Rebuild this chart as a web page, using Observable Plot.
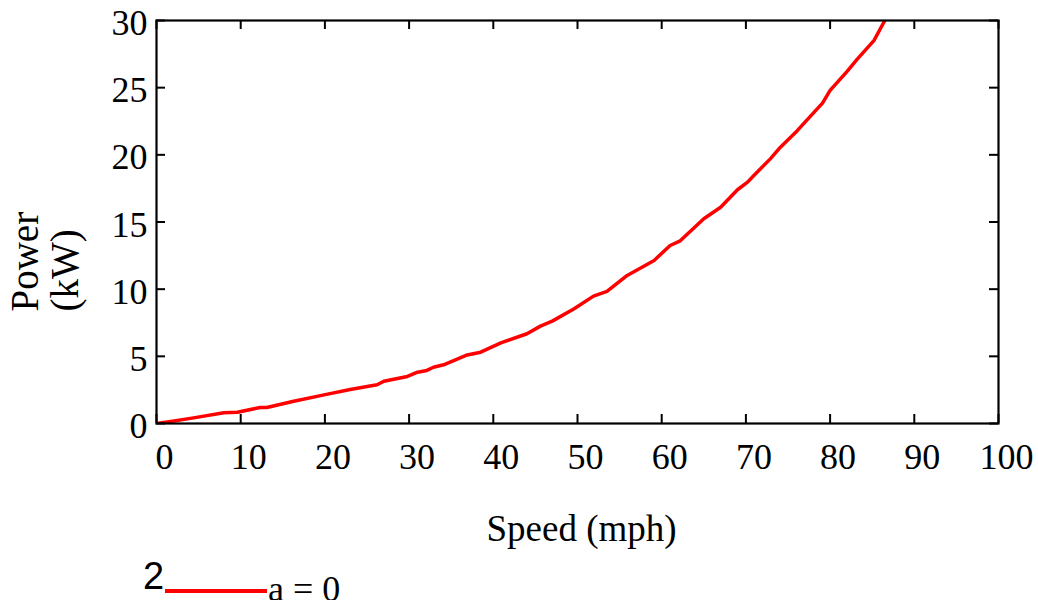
<!DOCTYPE html>
<html>
<head>
<meta charset="utf-8">
<script src="https://cdn.jsdelivr.net/npm/d3@7"></script>
<script src="https://cdn.jsdelivr.net/npm/@observablehq/plot@0.6"></script>
<style>
  html, body { margin: 0; padding: 0; background: #fff; overflow: hidden; }
  #chart svg { display: block; }
  #legend { position: relative; width: 1038px; height: 45px; }
  #legend .num { position: absolute; left: 143px; top: 2px; font-family: "Liberation Sans", Arial, sans-serif; font-size: 38px; line-height: 1; }
  #legend .swatch { position: absolute; left: 165px; top: 34px; width: 102px; height: 4px; background: #ff0000; }
  #legend .lab { position: absolute; left: 268px; top: 16px; font-family: "Liberation Serif", "Times New Roman", serif; font-size: 36px; line-height: 1; }
</style>
</head>
<body>
<div id="chart"></div>
<div id="legend"><span class="num">2</span><span class="swatch"></span><span class="lab">a = 0</span></div>
<script>
const speed = [0, 1.9, 4.4, 8.0, 9.6, 12.3, 13.1, 16.3, 19.9, 23.0, 26.2, 27.0, 29.8, 31.0, 32.1, 32.9, 34.1, 36.9, 38.5, 40.9, 44.0, 45.6, 47.0, 49.6, 51.9, 53.5, 55.9, 59.1, 61.0, 62.2, 65.0, 67.0, 69.0, 70.2, 71.0, 72.9, 74.1, 76.1, 77.7, 79.1, 80.0, 82.0, 83.2, 85.2, 86.5];
const power = [0, 0.17, 0.42, 0.8, 0.84, 1.19, 1.19, 1.66, 2.13, 2.53, 2.88, 3.15, 3.5, 3.82, 3.95, 4.19, 4.37, 5.1, 5.31, 6.0, 6.68, 7.25, 7.62, 8.54, 9.48, 9.83, 11.02, 12.14, 13.25, 13.6, 15.24, 16.1, 17.4, 17.97, 18.5, 19.7, 20.57, 21.8, 22.9, 23.85, 24.8, 26.2, 27.1, 28.5, 30.0];
const xTicks = [0, 10, 20, 30, 40, 50, 60, 70, 80, 90, 100];
const yTicks = [0, 5, 10, 15, 20, 25, 30];
const xLabel = "Speed (mph)";
const yLabel = "Power\n(kW)";

const data = speed.map((s, i) => ({speed: s, power: power[i]}));

const W = 1038, H = 555, mL = 156, mR = 40, mT = 20, mB = 132;
const fw = W - mL - mR, fh = H - mT - mB, tl = 9;
const FS = 36, XFS = 37, YFS = 39;

const chart = Plot.plot({
  width: W,
  height: H,
  marginLeft: mL,
  marginRight: mR,
  marginTop: mT,
  marginBottom: mB,
  style: {fontFamily: "'Liberation Serif', 'Times New Roman', serif", fontSize: FS + "px", background: "#fff", color: "#000"},
  x: {domain: [0, 100]},
  y: {domain: [0, 30]},
  marks: [
    Plot.line(data, {x: "speed", y: "power", stroke: "#ff0000", strokeWidth: 3.5, clip: true}),
    Plot.tickX(xTicks, {x: d => d, insetTop: fh - tl, stroke: "#000", strokeWidth: 2}),
    Plot.tickX(xTicks, {x: d => d, insetBottom: fh - tl, stroke: "#000", strokeWidth: 2}),
    Plot.tickY(yTicks, {y: d => d, insetRight: fw - tl, stroke: "#000", strokeWidth: 2}),
    Plot.tickY(yTicks, {y: d => d, insetLeft: fw - tl, stroke: "#000", strokeWidth: 2}),
    Plot.frame({stroke: "#000", strokeWidth: 2.2}),
    Plot.axisX(xTicks, {tickSize: 0, tickPadding: 19.5, dx: 8, fontSize: FS, label: null, tickFormat: d => String(d)}),
    Plot.axisY(yTicks, {tickSize: 0, tickPadding: 9, dy: 3, fontSize: FS, label: null, tickFormat: d => String(d)}),
    Plot.text([xLabel], {text: d => d, frameAnchor: "bottom", lineAnchor: "middle", dx: 4, dy: 540 - 0.32 * XFS - (mT + fh), fontSize: XFS, fill: "#000"}),
    Plot.text([yLabel], {text: d => d, frameAnchor: "left", rotate: -90, textAnchor: "start", lineAnchor: "top", lineHeight: 1.01, dx: 37.7 - 0.71 * YFS - mL, dy: 311 - (mT + fh / 2), fontSize: YFS, fill: "#000"})
  ]
});
document.getElementById("chart").appendChild(chart);
</script>
</body>
</html>
